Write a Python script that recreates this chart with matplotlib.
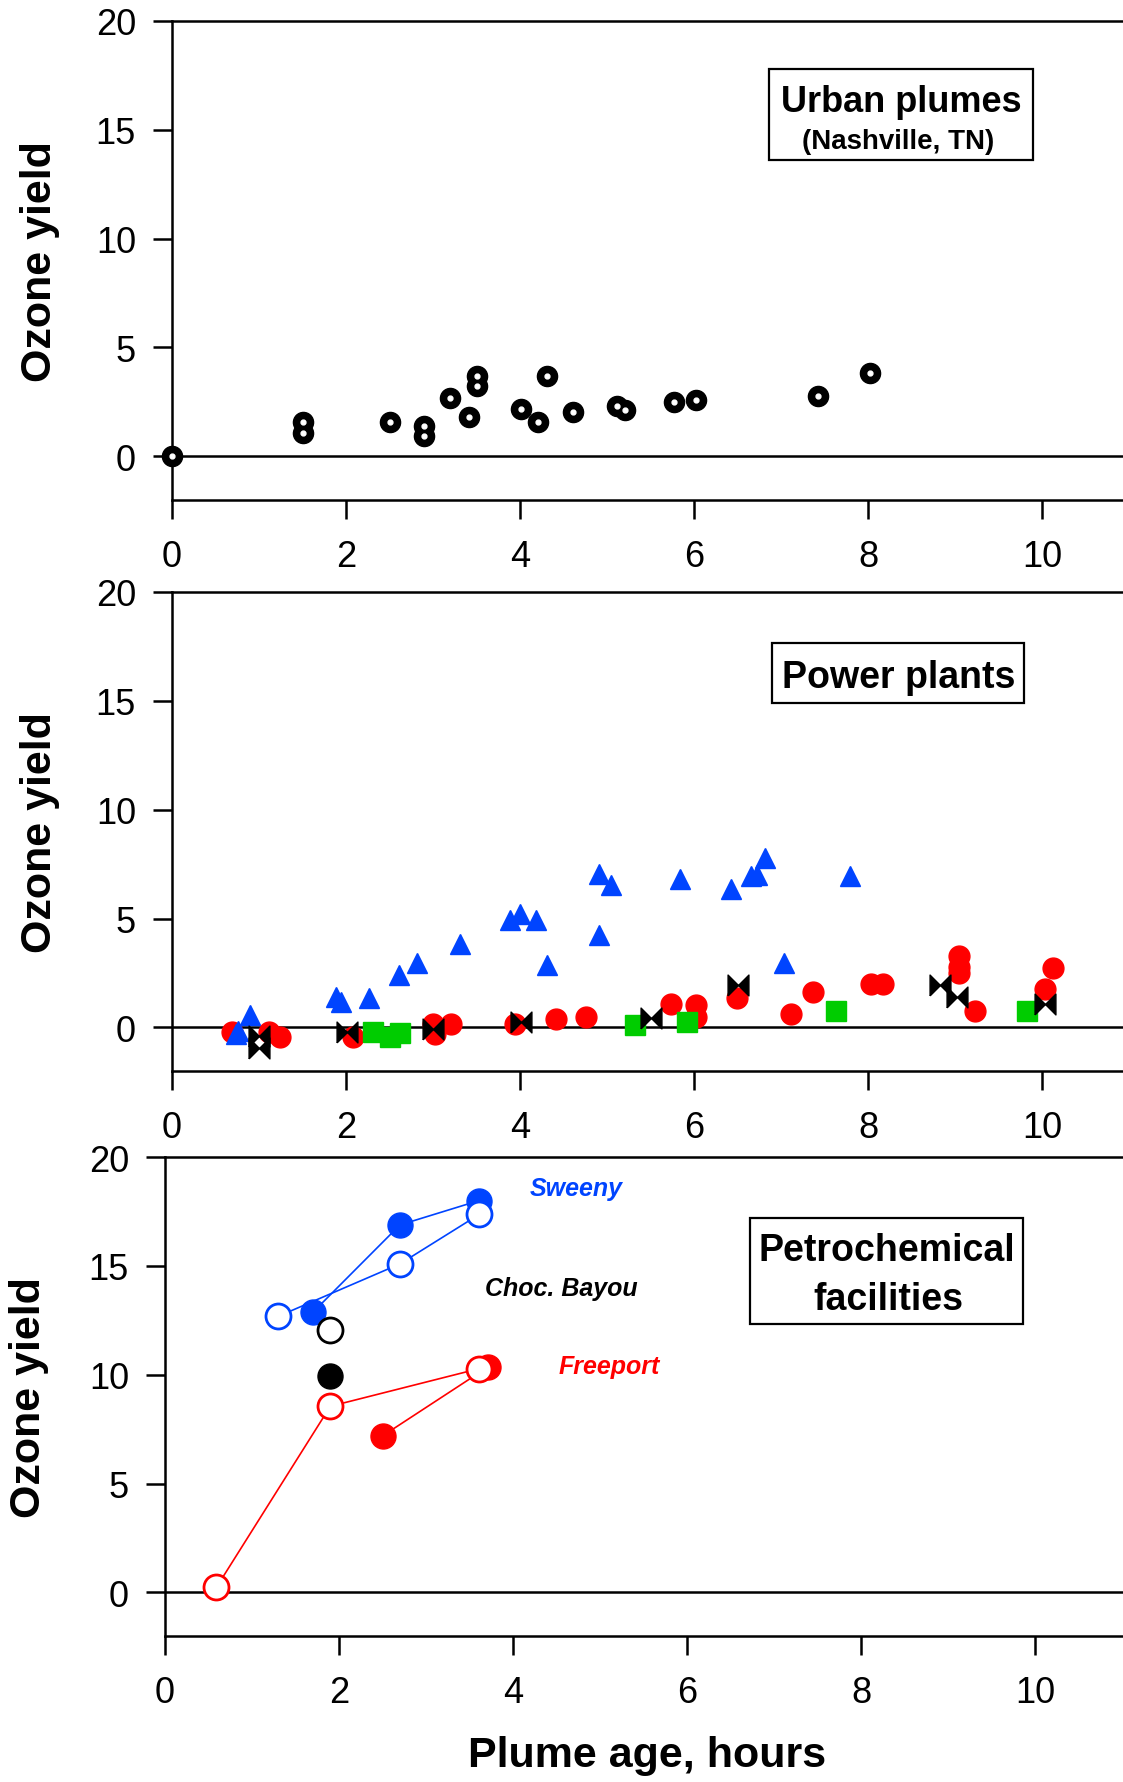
import matplotlib.pyplot as plt
from matplotlib.patches import Rectangle

plt.rcParams['font.family'] = ['Liberation Sans', 'DejaVu Sans']

# urban plumes (Nashville)
urban_age = [0, 1.51, 1.51, 2.51, 2.90, 2.90, 3.20, 3.41, 3.50, 3.50,
             4.01, 4.21, 4.31, 4.61, 5.11, 5.21, 5.77, 6.02, 7.42, 8.02]
urban_yield = [0, 1.59, 1.06, 1.59, 1.41, 0.95, 2.66, 1.79, 3.68, 3.22,
               2.16, 1.59, 3.70, 2.02, 2.31, 2.13, 2.51, 2.58, 2.77, 3.84]

# power plants, four plant types
tri_age = [0.90, 0.73, 0.76, 1.89, 1.94, 2.26, 2.61, 2.82, 3.31, 3.89, 4.00, 4.18,
           4.31, 4.91, 4.91, 5.05, 5.84, 6.42, 6.65, 6.72, 6.82, 7.03, 7.79]
tri_yield = [0.58, -0.28, -0.15, 1.41, 1.18, 1.33, 2.40, 2.98, 3.85, 4.92, 5.23, 4.92,
             2.86, 4.23, 7.06, 6.53, 6.83, 6.38, 6.95, 7.02, 7.78, 2.94, 6.96]

red_age = [0.69, 1.11, 1.24, 2.08, 3.00, 3.02, 3.21, 3.94, 4.41, 4.76, 5.73, 6.02,
           6.02, 6.49, 7.12, 7.37, 8.03, 8.17, 9.05, 9.05, 9.05, 9.23, 10.03, 10.12]
red_yield = [-0.20, -0.20, -0.43, -0.43, 0.18, -0.28, 0.18, 0.18, 0.41, 0.49, 1.10, 1.02,
             0.49, 1.33, 0.60, 1.61, 1.99, 1.99, 3.29, 2.78, 2.48, 0.75, 1.76, 2.74]

bow_age = [1.00, 1.00, 2.01, 3.00, 4.01, 5.51, 6.51, 8.83, 9.02, 10.03]
bow_yield = [-0.41, -0.96, -0.20, -0.05, 0.26, 0.44, 1.97, 1.94, 1.41, 1.10]

sq_age = [2.31, 2.50, 2.62, 5.32, 5.92, 7.63, 9.83]
sq_yield = [-0.23, -0.45, -0.25, 0.11, 0.26, 0.77, 0.77]

# petrochemical facilities
sweeny_fill_age = [1.70, 2.70, 3.61]
sweeny_fill_yield = [12.87, 16.88, 18.00]
sweeny_open_age = [1.30, 2.70, 3.61]
sweeny_open_yield = [12.68, 15.09, 17.36]
choc_open_age, choc_open_yield = [1.90], [12.06]
choc_fill_age, choc_fill_yield = [1.90], [9.94]
free_open_age = [0.59, 1.90, 3.61]
free_open_yield = [0.23, 8.55, 10.28]
free_fill_age = [2.50, 3.71]
free_fill_yield = [7.19, 10.35]

BLUE = '#0044FF'
RED = '#FF0000'
GREEN = '#00CC00'
W, H = 1123, 1783
BOWTIE = [(-1, -1), (0, 0), (1, -1), (1, 1), (0, 0), (-1, 1), (-1, -1)]


def fx(x):
    return x / W


def fy(y):
    return 1 - y / H


def style_axis(ax, xmax):
    ax.set_xlim(0, xmax)
    ax.set_ylim(-2, 20)
    ax.set_xticks(range(0, 11, 2))
    ax.set_yticks(range(0, 21, 5))
    ax.spines['right'].set_visible(False)
    for s in ['top', 'left', 'bottom']:
        ax.spines[s].set_linewidth(1.8)
    ax.tick_params(direction='out', length=14, width=1.8, labelsize=26)
    ax.tick_params(axis='x', pad=14)
    ax.tick_params(axis='y', pad=12)
    ax.axhline(0, color='black', lw=1.8, zorder=1)


def label_box(x0, y0, x1, y1):
    fig.add_artist(Rectangle((fx(x0), fy(y1)), fx(x1) - fx(x0), fy(y0) - fy(y1),
                             transform=fig.transFigure, facecolor='white',
                             edgecolor='black', lw=1.6, zorder=5))


fig = plt.figure(figsize=(W / 100, H / 100), dpi=100)
ax1 = fig.add_axes([fx(172), fy(501), 1 - fx(172), fy(21.6) - fy(501)])
ax2 = fig.add_axes([fx(172), fy(1072), 1 - fx(172), fy(593) - fy(1072)])
ax3 = fig.add_axes([fx(165), fy(1637), 1 - fx(165), fy(1158) - fy(1637)])
style_axis(ax1, 10.93)
style_axis(ax2, 10.93)
style_axis(ax3, 11.01)

# panel 1
ax1.plot(urban_age, urban_yield, 'o', color='black', ms=14.5, ls='none',
         clip_on=False, zorder=3)
ax1.plot(urban_age, urban_yield, 'o', color='white', ms=3.5, ls='none',
         clip_on=False, zorder=4)

# panel 2
ax2.plot(red_age, red_yield, 'o', color=RED, ms=15, ls='none', zorder=3)
ax2.plot(sq_age, sq_yield, 's', color=GREEN, ms=15, ls='none', zorder=4)
ax2.plot(tri_age, tri_yield, '^', color=BLUE, ms=15, ls='none', zorder=5)
ax2.plot(bow_age, bow_yield, marker=BOWTIE, color='black', ms=15, ls='none', zorder=6)

# panel 3
ms3 = 18
ax3.plot(sweeny_fill_age, sweeny_fill_yield, '-o', color=BLUE, ms=ms3, lw=1.2, zorder=3)
ax3.plot(sweeny_open_age, sweeny_open_yield, '-o', color=BLUE, ms=ms3, lw=1.2,
         mfc='white', mew=2, zorder=4)
ax3.plot(choc_open_age, choc_open_yield, 'o', color='black', ms=ms3, mfc='white',
         mew=2, zorder=4)
ax3.plot(choc_fill_age, choc_fill_yield, 'o', color='black', ms=ms3, zorder=4)
ax3.plot(free_fill_age, free_fill_yield, '-o', color=RED, ms=ms3, lw=1.2, zorder=3)
ax3.plot(free_open_age, free_open_yield, '-o', color=RED, ms=ms3, lw=1.2,
         mfc='white', mew=2, zorder=4, clip_on=False)

lab = dict(fontsize=18, fontweight='bold', fontstyle='italic', ha='center', va='baseline')
ax3.text(4.72, 18.26, 'Sweeny', color=BLUE, **lab)
ax3.text(4.55, 13.67, 'Choc. Bayou', color='black', **lab)
ax3.text(5.10, 10.09, 'Freeport', color=RED, **lab)

# y labels
for yc, xc in [((21.6 + 501) / 2, 40), ((593 + 1072) / 2, 40), ((1158 + 1637) / 2, 29)]:
    fig.text(fx(xc), fy(yc), 'Ozone yield', rotation=90, fontsize=31,
             fontweight='bold', ha='center', va='center')
fig.text(fx(647), fy(1756), 'Plume age, hours', fontsize=31, fontweight='bold',
         ha='center', va='center')

# boxed titles
label_box(769, 70, 1033, 161)
fig.text(fx(901), fy(112), 'Urban plumes', fontsize=26, fontweight='bold',
         ha='center', va='baseline', zorder=6)
fig.text(fx(898), fy(149), '(Nashville, TN)', fontsize=20, fontweight='bold',
         ha='center', va='baseline', zorder=6)

label_box(772, 644, 1024, 704)
fig.text(fx(899), fy(688), 'Power plants', fontsize=27, fontweight='bold',
         ha='center', va='baseline', zorder=6)

label_box(750, 1219, 1023, 1325)
fig.text(fx(887), fy(1261), 'Petrochemical', fontsize=27, fontweight='bold',
         ha='center', va='baseline', zorder=6)
fig.text(fx(888), fy(1310), 'facilities', fontsize=27, fontweight='bold',
         ha='center', va='baseline', zorder=6)

fig.savefig('out.png', dpi=100)
